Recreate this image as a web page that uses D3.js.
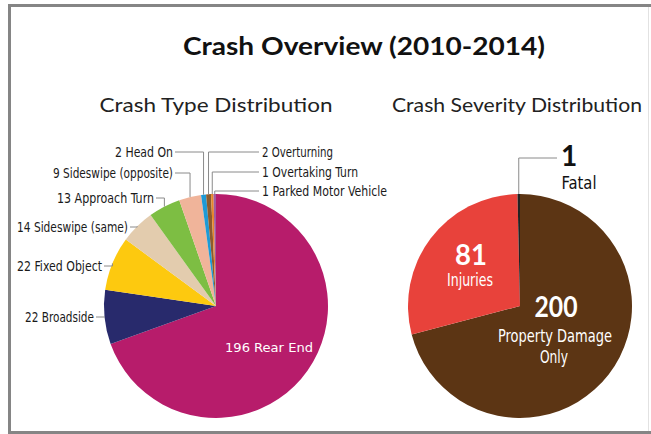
<!DOCTYPE html>
<html>
<head>
<meta charset="utf-8">
<script src="https://cdn.jsdelivr.net/npm/d3@7"></script>
<style>
  html, body { margin: 0; padding: 0; background: #fff; }
  svg { display: block; }
  .narrow { font-family: "DejaVu Sans Condensed", "Liberation Sans Narrow", "Roboto", sans-serif; }
  .gill { font-family: "Lato", "Open Sans", sans-serif; }
</style>
</head>
<body>
<svg id="chart" width="651" height="434"></svg>
<script>
// ---------- DATA ----------
const chartTitle = "Crash Overview (2010-2014)";
const typeTitle = "Crash Type Distribution";
const severityTitle = "Crash Severity Distribution";

const typeCategories = ["Rear End", "Broadside", "Fixed Object", "Sideswipe (same)", "Approach Turn",
  "Sideswipe (opposite)", "Head On", "Overturning", "Overtaking Turn", "Parked Motor Vehicle"];
const typeValues = [196, 22, 22, 14, 13, 9, 2, 2, 1, 1];
const typeColors = ["#B71C6B", "#282A6C", "#FDC90F", "#E3CCAE", "#7DBE43",
  "#F0B49A", "#1E9AD5", "#8C5B2E", "#E8862A", "#A05C9E"];

const severityCategories = ["Property Damage Only", "Injuries", "Fatal"];
const severityValues = [200, 81, 1];
const severityColors = ["#5C3514", "#E8423B", "#222222"];

// ---------- LAYOUT ----------
const svg = d3.select("#chart");
const fit = (sel, w) => sel.attr("textLength", w).attr("lengthAdjust", "spacingAndGlyphs");

// frame
svg.append("line").attr("x1", 9.5).attr("y1", 5).attr("x2", 9.5).attr("y2", 433).attr("stroke", "#858585").attr("stroke-width", 3);
svg.append("line").attr("x1", 8).attr("y1", 5.5).attr("x2", 651).attr("y2", 5.5).attr("stroke", "#858585").attr("stroke-width", 3);
svg.append("line").attr("x1", 8).attr("y1", 432.5).attr("x2", 651).attr("y2", 432.5).attr("stroke", "#858585").attr("stroke-width", 3);
svg.append("line").attr("x1", 648.5).attr("y1", 7).attr("x2", 648.5).attr("y2", 431).attr("stroke", "#e2e2e2").attr("stroke-width", 1);

fit(svg.append("text").attr("class", "gill").attr("x", 364).attr("y", 55)
  .attr("text-anchor", "middle").attr("font-size", 25).attr("font-weight", "bold").attr("fill", "#111")
  .text(chartTitle), 362);
fit(svg.append("text").attr("class", "gill").attr("x", 216).attr("y", 112)
  .attr("text-anchor", "middle").attr("font-size", 20).attr("fill", "#222")
  .text(typeTitle), 233);
fit(svg.append("text").attr("class", "gill").attr("x", 517).attr("y", 112)
  .attr("text-anchor", "middle").attr("font-size", 20).attr("fill", "#222")
  .text(severityTitle), 250);

const r = 112;
const pie = d3.pie().sort(null).startAngle(0).endAngle(2 * Math.PI);
const arc = d3.arc().innerRadius(0).outerRadius(r);
const ptAt = (a, rad) => [rad * Math.sin(a), -rad * Math.cos(a)];

// ---------- PIE 1: crash type ----------
const c1 = [216, 306];
const g1 = svg.append("g").attr("transform", `translate(${c1[0]},${c1[1]})`);
const typeArcs = pie(typeValues);
g1.selectAll("path").data(typeArcs).join("path")
  .attr("d", arc).attr("fill", (d, i) => typeColors[i]);

// inner label for the big slice
fit(g1.append("text").attr("class", "narrow").attr("x", 53).attr("y", 46)
  .attr("text-anchor", "middle").attr("font-size", 13).attr("fill", "#fff")
  .text(typeValues[0] + " " + typeCategories[0]), 88);

// outside labels
const labelY = [null, 317, 266, 227, 198, 173, 152, 152, 172, 191];
const labelEndX = [null, 94, 102, 128, 154, 173, 173, 262, 262, 262];
const labelW = [null, 69, 85, 111, 97, 120, 58, 71, 96, 125];
const lab = svg.append("g");
typeArcs.forEach((d, i) => {
  if (i === 0) return;
  const mid = (d.startAngle + d.endAngle) / 2;
  const p = ptAt(mid, r);
  const px = c1[0] + p[0], py = c1[1] + p[1];
  const left = i <= 6;
  const ly = labelY[i];
  let path;
  if (left) {
    path = `M${labelEndX[i] + 2},${ly} H${px} V${py}`;
  } else {
    path = `M${px},${py} V${ly} H${labelEndX[i] - 3}`;
  }
  lab.append("path").attr("d", path).attr("fill", "none").attr("stroke", "#8a8a8a").attr("stroke-width", 1);
  fit(lab.append("text").attr("class", "narrow")
    .attr("x", labelEndX[i]).attr("y", ly).attr("dy", "0.35em")
    .attr("text-anchor", left ? "end" : "start")
    .attr("font-size", 13.5).attr("fill", "#1a1a1a")
    .text(typeValues[i] + " " + typeCategories[i]), labelW[i]);
});

// ---------- PIE 2: severity ----------
const c2 = [520, 306];
const g2 = svg.append("g").attr("transform", `translate(${c2[0]},${c2[1]})`);
const sevArcs = pie(severityValues);
g2.selectAll("path").data(sevArcs).join("path")
  .attr("d", arc).attr("fill", (d, i) => severityColors[i]);

// Property damage
fit(g2.append("text").attr("class", "gill").attr("x", 36).attr("y", 11)
  .attr("text-anchor", "middle").attr("font-size", 28).attr("font-weight", "bold").attr("fill", "#fff")
  .text(severityValues[0]), 43);
fit(g2.append("text").attr("class", "narrow").attr("x", 35).attr("y", 36)
  .attr("text-anchor", "middle").attr("font-size", 17).attr("fill", "#fff")
  .text("Property Damage"), 114);
fit(g2.append("text").attr("class", "narrow").attr("x", 34).attr("y", 57)
  .attr("text-anchor", "middle").attr("font-size", 17).attr("fill", "#fff")
  .text("Only"), 28);
// Injuries
fit(g2.append("text").attr("class", "gill").attr("x", -49).attr("y", -41)
  .attr("text-anchor", "middle").attr("font-size", 28).attr("font-weight", "bold").attr("fill", "#fff")
  .text(severityValues[1]), 32);
fit(g2.append("text").attr("class", "narrow").attr("x", -50).attr("y", -20)
  .attr("text-anchor", "middle").attr("font-size", 17).attr("fill", "#fff")
  .text(severityCategories[1]), 46);
// Fatal leader + label
const fa = sevArcs[2];
const fp = ptAt((fa.startAngle + fa.endAngle) / 2, r);
svg.append("path")
  .attr("d", `M${c2[0] + fp[0]},${c2[1] + fp[1]} V158 H557`)
  .attr("fill", "none").attr("stroke", "#8a8a8a").attr("stroke-width", 1);
svg.append("text").attr("class", "gill").attr("x", 569).attr("y", 166)
  .attr("text-anchor", "middle").attr("font-size", 28).attr("font-weight", "bold").attr("fill", "#111")
  .text(severityValues[2]);
fit(svg.append("text").attr("class", "narrow").attr("x", 579).attr("y", 189)
  .attr("text-anchor", "middle").attr("font-size", 17).attr("fill", "#111")
  .text(severityCategories[2]), 35);
</script>
</body>
</html>
